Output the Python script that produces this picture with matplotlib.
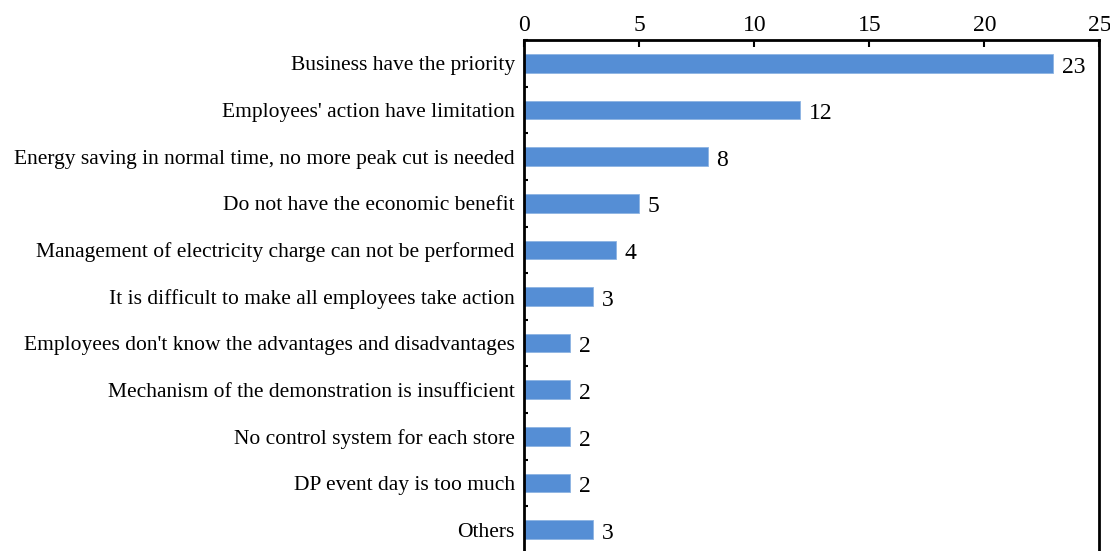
import matplotlib.pyplot as plt
import numpy as np

categories = [
    "Business have the priority",
    "Employees' action have limitation",
    "Energy saving in normal time, no more peak cut is needed",
    "Do not have the economic benefit",
    "Management of electricity charge can not be performed",
    "It is difficult to make all employees take action",
    "Employees don't know the advantages and disadvantages",
    "Mechanism of the demonstration is insufficient",
    "No control system for each store",
    "DP event day is too much",
    "Others",
]
counts = [23, 12, 8, 5, 4, 3, 2, 2, 2, 2, 3]
x_ticks = [0, 5, 10, 15, 20, 25]

plt.rcParams['font.family'] = ['Liberation Serif', 'DejaVu Serif']

fig = plt.figure(figsize=(11.1, 5.51), dpi=100)
ax = fig.add_axes([0.4725, -0.0036, 0.518, 0.931])

y = np.arange(len(categories))
ax.barh(y, counts, height=0.4, color='#558ED5', edgecolor='#8DB4E2', linewidth=0.6)
for yi, v in zip(y, counts):
    ax.text(v + 0.35, yi + 0.08, str(v), va='center', ha='left', fontsize=17)

ax.set_ylim(len(categories) - 0.5, -0.5)
ax.set_xlim(0, 25)
ax.xaxis.tick_top()
ax.set_xticks(x_ticks)
ax.tick_params(axis='x', direction='in', length=5, width=1.5, labelsize=17, pad=3)
ax.set_yticks(y)
ax.set_yticklabels(categories, fontsize=15.5)
ax.tick_params(axis='y', which='major', length=0, pad=7)
ax.set_yticks(np.arange(-0.5, len(categories), 1), minor=True)
ax.tick_params(axis='y', which='minor', direction='in', length=3, width=1.5)
for s in ax.spines.values():
    s.set_linewidth(2)

fig.savefig('out.png', dpi=100)
